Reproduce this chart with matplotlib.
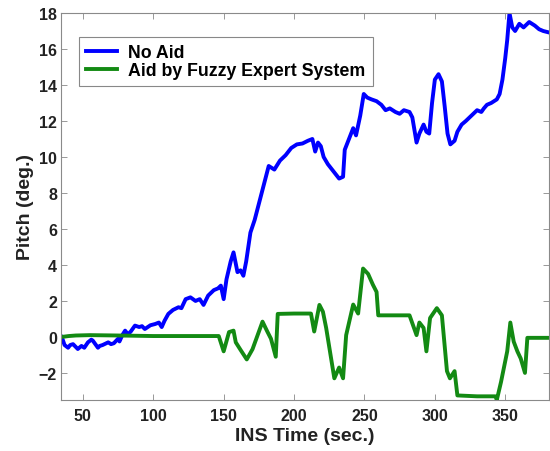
import matplotlib.pyplot as plt
import numpy as np

# Pitch without aiding
t_noaid = [35, 37, 39.5, 41, 43, 46.4, 49, 51, 53.6, 56, 57, 60.7, 62, 64, 68, 70, 72, 75, 76,
           78, 80, 82, 84, 87, 90, 92, 94, 98, 101.4, 104, 106, 108, 110.7, 114, 117.9, 120,
           123, 126.4, 130, 133, 135.7, 139, 143, 146, 148, 150, 152, 155, 157, 159.8, 162,
           164, 166, 169, 172, 176, 179, 182, 186, 190, 194, 198, 202, 206, 209.8, 213, 215,
           217, 219, 221, 224, 227, 230, 232, 234.8, 236, 239, 242, 244, 247, 249.5, 252,
           255, 258.6, 262, 265, 268, 272, 275, 278, 282, 284, 287, 289, 292, 294, 296, 298,
           300, 302.6, 305, 307, 309, 311, 314, 316, 319, 322, 326, 330, 333, 334.8, 337,
           340, 344, 346, 348, 350, 351.4, 353, 355, 357, 360, 363, 367, 371, 374, 377, 382]
pitch_noaid = [0.0, -0.45, -0.6, -0.45, -0.4, -0.67, -0.5, -0.6, -0.3, -0.15, -0.2, -0.6,
               -0.5, -0.45, -0.3, -0.4, -0.35, -0.1, -0.25, 0.1, 0.35, 0.15, 0.3, 0.63, 0.55,
               0.6, 0.44, 0.65, 0.72, 0.8, 0.55, 0.9, 1.28, 1.5, 1.65, 1.6, 2.1, 2.2, 2.0, 2.1,
               1.78, 2.3, 2.6, 2.7, 2.85, 2.1, 3.2, 4.2, 4.7, 3.6, 3.7, 3.4, 4.2, 5.8, 6.5,
               7.7, 8.6, 9.5, 9.3, 9.8, 10.1, 10.5, 10.7, 10.75, 10.9, 11.0, 10.3, 10.8, 10.6,
               10.0, 9.6, 9.3, 9.0, 8.8, 8.9, 10.4, 11.0, 11.6, 11.2, 12.3, 13.5, 13.3, 13.2,
               13.1, 12.9, 12.6, 12.7, 12.5, 12.4, 12.6, 12.5, 12.2, 10.8, 11.3, 11.8, 11.4,
               11.3, 13.0, 14.3, 14.6, 14.2, 12.8, 11.3, 10.7, 10.9, 11.4, 11.8, 12.0, 12.3,
               12.6, 12.5, 12.7, 12.9, 13.0, 13.2, 13.5, 14.3, 15.5, 16.5, 18.0, 17.2, 17.0,
               17.4, 17.2, 17.5, 17.3, 17.1, 17.0, 16.9]

# Pitch aided by the fuzzy expert system
t_fuzzy = [35, 40, 45, 55, 75, 100, 120, 146.5, 150, 153.8, 157, 158.6, 162, 166.4, 170.5,
           177.6, 181, 183.6, 187, 188.4, 200, 212, 214.3, 218, 220.5, 222.8, 228.6, 232,
           234.8, 237, 242, 245.5, 249, 252.6, 256, 258.6, 259.8, 270, 282, 287, 289, 292,
           294, 296.6, 301.4, 305, 308.6, 310.7, 314, 316, 330, 343, 344, 347, 351.4, 353.6,
           356, 358.6, 361, 364, 365.7, 372, 382]
pitch_fuzzy = [0.0, 0.05, 0.08, 0.1, 0.08, 0.05, 0.05, 0.05, -0.8, 0.27, 0.35, -0.3, -0.72,
               -1.25, -0.68, 0.85, 0.3, -0.1, -1.1, 1.28, 1.3, 1.3, 0.3, 1.78, 1.4, 0.5, -2.3,
               -1.7, -2.3, 0.1, 1.8, 1.3, 3.8, 3.5, 2.9, 2.5, 1.2, 1.2, 1.2, 0.1, 0.8, 0.5,
               -0.8, 1.05, 1.6, 1.2, -1.9, -2.3, -1.9, -3.25, -3.3, -3.3, -3.5, -2.5, -0.8,
               0.8, -0.26, -0.8, -1.2, -2.0, -0.05, -0.05, -0.05]

x_ticks = [50, 100, 150, 200, 250, 300, 350]
y_ticks = [-2, 0, 2, 4, 6, 8, 10, 12, 14, 16, 18]

plt.rcParams['font.family'] = ['Liberation Sans', 'DejaVu Sans']
plt.rcParams['font.weight'] = 'bold'

fig = plt.figure(figsize=(5.5, 4.52), dpi=100)
ax = fig.add_axes([0.111, 0.113, 0.887, 0.856])

ax.plot(t_noaid, pitch_noaid, color='#0000ff', linewidth=2.8, label='No Aid')
ax.plot(t_fuzzy, pitch_fuzzy, color='#138a13', linewidth=2.8, label='Aid by Fuzzy Expert System')

ax.set_xlim(34.5, 381)
ax.set_ylim(-3.5, 18)
ax.set_xticks(x_ticks)
ax.set_yticks(y_ticks)
ax.tick_params(direction='in', top=True, right=True, length=4, width=0.6,
               colors='#888888', labelcolor='#222222', labelsize=11.5)
ax.tick_params(axis='x', pad=6)
ax.tick_params(axis='y', pad=3)
for lbl in ax.get_xticklabels() + ax.get_yticklabels():
    lbl.set_fontweight('bold')
for s in ax.spines.values():
    s.set_color('#8a8a8a')
    s.set_linewidth(0.8)

ax.set_xlabel('INS Time (sec.)', fontsize=14, fontweight='bold', color='#222222', labelpad=3)
ax.set_ylabel('Pitch (deg.)', fontsize=14, fontweight='bold', color='#222222', labelpad=3)

leg = ax.legend(loc='upper left', bbox_to_anchor=(0.0375, 0.939), borderaxespad=0,
                fancybox=False, edgecolor='#888888', framealpha=1, handlelength=1.7,
                borderpad=0.4, labelspacing=0.08, handletextpad=0.65,
                prop={'weight': 'bold', 'size': 12.8})
leg.get_frame().set_linewidth(0.8)

fig.savefig('out.png', dpi=100)
